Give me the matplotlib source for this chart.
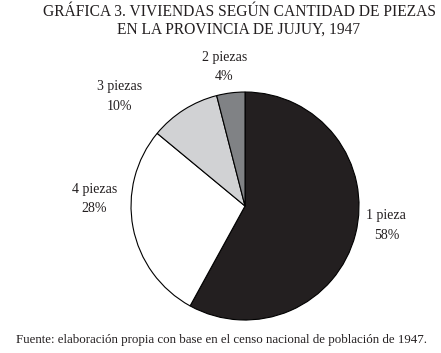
import matplotlib
matplotlib.use("Agg")
import matplotlib.pyplot as plt

# datos
piezas = ["1 pieza", "4 piezas", "3 piezas", "2 piezas"]
porcentajes = [58, 28, 10, 4]
colores = ["#231f20", "#ffffff", "#d1d2d4", "#808285"]
# posición de cada etiqueta (en radios, respecto al centro)
pos_etiquetas = [(1.24, -0.17), (-1.32, 0.06), (-1.10, 0.96), (-0.18, 1.22)]

plt.rcParams["font.family"] = ["Liberation Serif", "DejaVu Serif"]

fig = plt.figure(figsize=(4.41, 3.53), dpi=100)
ax = fig.add_axes([0.5556 - 0.2585, 0.4164 - 0.323, 0.517, 0.646])

ax.pie(porcentajes, colors=colores, startangle=90, counterclock=False,
       radius=1.0, wedgeprops=dict(edgecolor="black", linewidth=0.8))

for nombre, pct, (x, y) in zip(piezas, porcentajes, pos_etiquetas):
    ax.text(x, y, f"{nombre}\n{pct}%", ha="center", va="center",
            fontsize=10, linespacing=1.65, color="#231f20")

ax.set_xlim(-1, 1)
ax.set_ylim(-1, 1)
ax.set_aspect("equal")
ax.axis("off")

fig.text(0.542, 0.988, "GRÁFICA 3. VIVIENDAS SEGÚN CANTIDAD DE PIEZAS\nEN LA PROVINCIA DE JUJUY, 1947",
         ha="center", va="top", fontsize=11.2, linespacing=1.15, color="#231f20")
fig.text(0.502, 0.02, "Fuente: elaboración propia con base en el censo nacional de población de 1947.",
         ha="center", va="bottom", fontsize=9.3, color="#231f20")

fig.savefig("out.png", dpi=100)
